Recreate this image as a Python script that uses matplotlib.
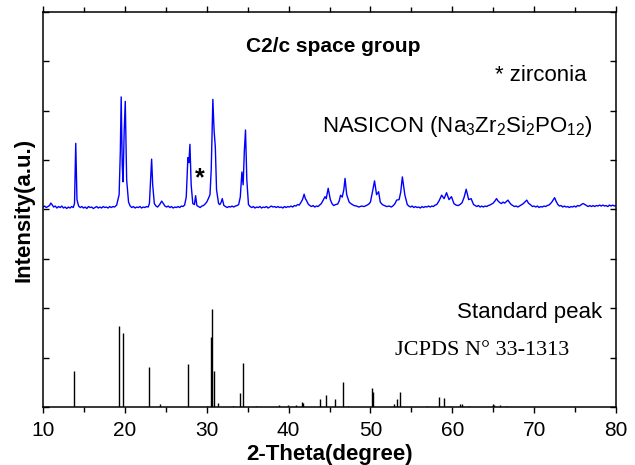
import matplotlib
matplotlib.use("Agg")
import matplotlib.pyplot as plt
from matplotlib.ticker import MultipleLocator

plt.rcParams['font.family'] = ['Liberation Sans', 'DejaVu Sans']
plt.rcParams['mathtext.fontset'] = 'custom'
plt.rcParams['mathtext.rm'] = 'Liberation Sans'
plt.rcParams['mathtext.it'] = 'Liberation Sans:italic'
plt.rcParams['mathtext.bf'] = 'Liberation Sans:bold'

nasicon_pattern = [
    (10.0, 4.05), (10.2, 4.07), (10.4, 4.04), (10.6, 4.06), (10.8, 4.08), (10.95, 4.13),
    (11.1, 4.10), (11.3, 4.05), (11.5, 4.07), (11.7, 4.03), (11.9, 4.06), (12.1, 4.04),
    (12.3, 4.07), (12.5, 4.03), (12.7, 4.05), (12.9, 4.02), (13.1, 4.05), (13.3, 4.03),
    (13.5, 4.06), (13.7, 4.04), (13.85, 4.12), (14.0, 5.34), (14.15, 4.20), (14.35, 4.07),
    (14.55, 4.04), (14.75, 4.06), (14.95, 4.03), (15.15, 4.05), (15.35, 4.02), (15.55, 4.06),
    (15.75, 4.04), (15.95, 4.05), (16.15, 4.02), (16.35, 4.04), (16.55, 4.06), (16.75, 4.03),
    (16.95, 4.05), (17.15, 4.03), (17.35, 4.06), (17.55, 4.04), (17.75, 4.05), (17.95, 4.03),
    (18.15, 4.06), (18.35, 4.04), (18.55, 4.06), (18.75, 4.05), (19.0, 4.09), (19.3, 4.30),
    (19.45, 5.20), (19.55, 6.28), (19.68, 4.90), (19.78, 4.56), (19.92, 5.60), (20.05, 6.19),
    (20.22, 4.60), (20.45, 4.15), (20.65, 4.07), (20.85, 4.04), (21.05, 4.06), (21.25, 4.03),
    (21.45, 4.05), (21.65, 4.04), (21.85, 4.06), (22.05, 4.03), (22.25, 4.05), (22.45, 4.04),
    (22.65, 4.06), (22.85, 4.05), (23.0, 4.12), (23.15, 4.60), (23.27, 5.02), (23.4, 4.50),
    (23.6, 4.12), (23.8, 4.07), (24.0, 4.05), (24.25, 4.10), (24.5, 4.17), (24.7, 4.12),
    (24.9, 4.07), (25.1, 4.05), (25.3, 4.07), (25.5, 4.04), (25.7, 4.06), (25.9, 4.03),
    (26.1, 4.05), (26.3, 4.04), (26.5, 4.06), (26.7, 4.04), (26.9, 4.07), (27.1, 4.06),
    (27.3, 4.09), (27.5, 4.25), (27.7, 5.05), (27.82, 4.95), (27.95, 5.32), (28.1, 4.50),
    (28.3, 4.12), (28.5, 4.10), (28.64, 4.28), (28.8, 4.08), (29.0, 4.06), (29.2, 4.04),
    (29.4, 4.07), (29.6, 4.08), (29.8, 4.11), (30.0, 4.15), (30.2, 4.22), (30.4, 4.30),
    (30.55, 4.80), (30.75, 6.23), (30.9, 5.60), (31.05, 5.27), (31.2, 4.40), (31.45, 4.12),
    (31.6, 4.10), (31.75, 4.14), (31.9, 4.22), (32.1, 4.08), (32.3, 4.06), (32.5, 4.04),
    (32.7, 4.06), (32.9, 4.05), (33.1, 4.07), (33.3, 4.05), (33.5, 4.07), (33.7, 4.08),
    (33.9, 4.10), (34.1, 4.25), (34.3, 4.76), (34.45, 4.50), (34.6, 5.20), (34.74, 5.61),
    (34.9, 4.60), (35.1, 4.10), (35.3, 4.06), (35.5, 4.04), (35.7, 4.06), (35.9, 4.03),
    (36.1, 4.05), (36.3, 4.04), (36.5, 4.06), (36.7, 4.03), (36.9, 4.05), (37.1, 4.04),
    (37.3, 4.06), (37.5, 4.03), (37.7, 4.05), (37.9, 4.07), (38.1, 4.05), (38.3, 4.06),
    (38.5, 4.04), (38.7, 4.06), (38.9, 4.04), (39.1, 4.05), (39.3, 4.03), (39.5, 4.06),
    (39.7, 4.04), (39.9, 4.06), (40.1, 4.05), (40.3, 4.07), (40.5, 4.05), (40.7, 4.08),
    (40.9, 4.07), (41.1, 4.10), (41.3, 4.09), (41.5, 4.14), (41.7, 4.20), (41.9, 4.31),
    (42.05, 4.22), (42.2, 4.18), (42.4, 4.11), (42.6, 4.08), (42.8, 4.06), (43.0, 4.08),
    (43.2, 4.05), (43.4, 4.07), (43.6, 4.06), (43.8, 4.09), (44.0, 4.12), (44.2, 4.18),
    (44.45, 4.26), (44.6, 4.22), (44.84, 4.43), (45.1, 4.20), (45.3, 4.12), (45.5, 4.08),
    (45.75, 4.10), (46.0, 4.11), (46.2, 4.18), (46.35, 4.29), (46.55, 4.25), (46.75, 4.40),
    (46.9, 4.63), (47.1, 4.30), (47.4, 4.15), (47.6, 4.12), (47.8, 4.10), (48.0, 4.08),
    (48.3, 4.07), (48.6, 4.05), (48.9, 4.07), (49.2, 4.06), (49.5, 4.08), (49.8, 4.11),
    (50.0, 4.15), (50.3, 4.40), (50.5, 4.58), (50.75, 4.30), (51.0, 4.36), (51.2, 4.15),
    (51.45, 4.10), (51.7, 4.08), (52.0, 4.06), (52.3, 4.07), (52.55, 4.05), (52.8, 4.08),
    (53.0, 4.12), (53.2, 4.19), (53.5, 4.20), (53.7, 4.35), (53.9, 4.66), (54.2, 4.30),
    (54.5, 4.10), (54.7, 4.07), (54.9, 4.05), (55.1, 4.07), (55.3, 4.04), (55.5, 4.06),
    (55.7, 4.04), (55.9, 4.05), (56.1, 4.03), (56.3, 4.06), (56.5, 4.04), (56.7, 4.06),
    (56.9, 4.05), (57.1, 4.07), (57.3, 4.05), (57.5, 4.07), (57.7, 4.06), (57.9, 4.09),
    (58.1, 4.10), (58.4, 4.18), (58.7, 4.29), (59.0, 4.22), (59.3, 4.34), (59.6, 4.20),
    (59.9, 4.26), (60.2, 4.12), (60.45, 4.09), (60.7, 4.08), (60.95, 4.10), (61.2, 4.14),
    (61.45, 4.25), (61.7, 4.41), (62.0, 4.20), (62.3, 4.22), (62.6, 4.10), (62.8, 4.08),
    (63.0, 4.06), (63.2, 4.08), (63.4, 4.05), (63.6, 4.07), (63.8, 4.05), (64.0, 4.07),
    (64.2, 4.06), (64.4, 4.08), (64.6, 4.09), (64.8, 4.11), (65.0, 4.13), (65.2, 4.17),
    (65.4, 4.22), (65.6, 4.17), (65.8, 4.14), (66.0, 4.12), (66.2, 4.15), (66.4, 4.13),
    (66.6, 4.16), (66.8, 4.19), (67.0, 4.14), (67.2, 4.10), (67.4, 4.08), (67.6, 4.06),
    (67.8, 4.07), (68.0, 4.05), (68.2, 4.07), (68.4, 4.09), (68.6, 4.11), (68.8, 4.14),
    (69.1, 4.19), (69.3, 4.13), (69.6, 4.09), (69.8, 4.06), (70.0, 4.07), (70.2, 4.05),
    (70.4, 4.07), (70.6, 4.04), (70.8, 4.06), (71.0, 4.05), (71.2, 4.07), (71.4, 4.06),
    (71.6, 4.08), (71.8, 4.09), (72.0, 4.12), (72.2, 4.16), (72.5, 4.24), (72.7, 4.16),
    (72.9, 4.10), (73.1, 4.07), (73.3, 4.08), (73.5, 4.05), (73.7, 4.07), (73.9, 4.05),
    (74.1, 4.06), (74.3, 4.04), (74.5, 4.06), (74.7, 4.05), (74.9, 4.07), (75.1, 4.05),
    (75.3, 4.08), (75.5, 4.07), (75.7, 4.09), (75.85, 4.11), (76.0, 4.12), (76.2, 4.10),
    (76.4, 4.08), (76.6, 4.06), (76.8, 4.08), (77.0, 4.06), (77.2, 4.08), (77.4, 4.06),
    (77.6, 4.08), (77.8, 4.07), (78.0, 4.09), (78.2, 4.07), (78.4, 4.09), (78.6, 4.07),
    (78.8, 4.08), (79.0, 4.06), (79.2, 4.09), (79.4, 4.07), (79.6, 4.09), (79.8, 4.07),
    (80.0, 4.08),
]

# JCPDS 33-1313 standard peaks
std_theta = [13.79, 19.24, 19.73, 22.94, 24.28, 27.67, 29.99, 30.47, 30.6, 30.88, 31.33, 33.16,
             34.05, 34.38, 36.0, 38.86, 39.96, 40.86, 41.7, 41.8, 43.9, 44.63, 45.73, 46.59,
             47.28, 50.2, 50.33, 52.86, 53.27, 53.6, 55.14, 56.85, 58.4, 58.97, 59.78, 61.0,
             61.15, 62.1, 64.95, 65.05, 65.8, 66.6]
std_inten = [0.72, 1.65, 1.49, 0.82, 0.07, 0.88, 0.02, 1.42, 1.98, 0.73, 0.09, 0.03,
             0.29, 0.90, 0.02, 0.05, 0.05, 0.05, 0.10, 0.08, 0.16, 0.25, 0.16, 0.50,
             0.02, 0.38, 0.30, 0.07, 0.17, 0.31, 0.01, 0.02, 0.21, 0.19, 0.03, 0.07,
             0.06, 0.03, 0.06, 0.05, 0.04, 0.02]

theta_meas = [p[0] for p in nasicon_pattern]
inten_meas = [p[1] for p in nasicon_pattern]

fig = plt.figure(figsize=(6.35, 4.65), dpi=100)
ax = fig.add_axes([43/635, 58/465, 573/635, 395/465])

ax.plot(theta_meas, inten_meas, color='#0000ff', lw=1.0)
ax.vlines(std_theta, 0, std_inten, color='black', lw=1.0)

ax.set_xlim(10, 80)
ax.set_ylim(0, 8)
ax.xaxis.set_major_locator(MultipleLocator(10))
ax.xaxis.set_minor_locator(MultipleLocator(5))
ax.yaxis.set_major_locator(MultipleLocator(1))
ax.tick_params(axis='x', which='both', direction='out', top=True, labelsize=15, pad=6)
ax.tick_params(axis='x', which='major', length=4, width=1)
ax.tick_params(axis='x', which='minor', length=3.5, width=1)
ax.tick_params(axis='y', which='both', direction='in', right=True, labelleft=False,
               length=4, width=1)
for s in ax.spines.values():
    s.set_linewidth(1.1)

ax.set_xlabel('2-Theta(degree)', fontsize=16, fontweight='bold', labelpad=3)
ax.set_ylabel('Intensity(a.u.)', fontsize=16, fontweight='bold', labelpad=6)

ax.text(45.5, 7.31, 'C2/c space group', fontsize=15, fontweight='bold', ha='center', va='center')
ax.text(76.4, 6.72, '* zirconia', fontsize=16, ha='right', va='center')
ax.text(77.2, 5.57, r'NASICON (Na$_3$Zr$_2$Si$_2$PO$_{12}$)', fontsize=16, ha='right',
        va='baseline')
ax.text(29.17, 4.64, '*', fontsize=18, fontweight='bold', ha='center', va='center')
ax.text(78.25, 1.80, 'Standard peak', fontsize=16, ha='right', va='baseline')
ax.text(53.0, 1.05, 'JCPDS N° 33-1313', fontsize=16, ha='left', va='baseline',
        family='Liberation Serif')

fig.savefig('out.png', dpi=100)
